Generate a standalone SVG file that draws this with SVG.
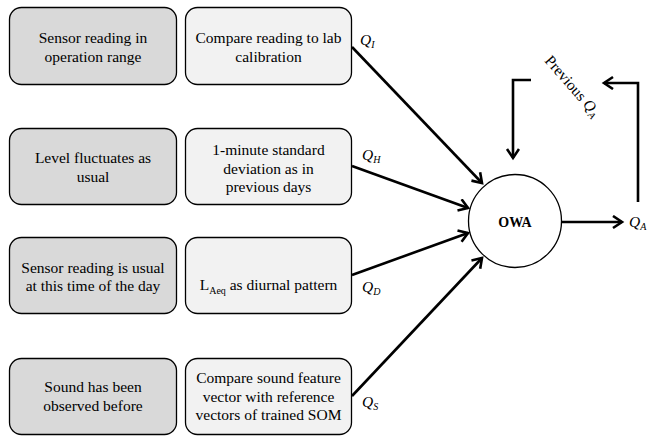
<svg xmlns="http://www.w3.org/2000/svg" width="649" height="436" viewBox="0 0 649 436">
  <style>
    .cond { fill: #d9d9d9; stroke: #000; stroke-width: 1.3; }
    .meth { fill: #f2f2f2; stroke: #000; stroke-width: 1.3; }
    .serif { font-family: "Liberation Serif", Tinos, "Nimbus Roman", "Noto Serif", "DejaVu Serif", serif; }
    .txt { font-size: 15.5px; fill: #000; text-anchor: middle; }
    .q { font-size: 15.5px; font-style: italic; fill: #000; }
    .sub { font-size: 10px; }
    .wire { fill: none; stroke: #000; stroke-width: 2.6; }
    .owa { font-size: 14px; font-weight: bold; text-anchor: middle; }
  </style>
  <defs>
    <marker id="head" markerUnits="userSpaceOnUse" markerWidth="16" markerHeight="16" refX="11" refY="7" orient="auto">
      <path d="M2,1 L11,7 L2,13" fill="none" stroke="#000" stroke-width="2.6"/>
    </marker>
  </defs>

  <g class="serif">
  <!-- row 1 -->
  <g id="cond-range">
    <rect class="cond" x="9.5" y="7.5" width="167" height="77" rx="12"/>
    <text class="txt" x="93" y="43">Sensor reading in</text>
    <text class="txt" x="93" y="62">operation range</text>
  </g>
  <g id="method-calibration">
    <rect class="meth" x="185.5" y="7.5" width="166" height="77" rx="12"/>
    <text class="txt" x="268.5" y="43">Compare reading to lab</text>
    <text class="txt" x="268.5" y="62">calibration</text>
  </g>

  <!-- row 2 -->
  <g id="cond-fluct">
    <rect class="cond" x="9.5" y="128.5" width="167" height="76" rx="12"/>
    <text class="txt" x="93" y="163">Level fluctuates as</text>
    <text class="txt" x="93" y="182">usual</text>
  </g>
  <g id="method-stddev">
    <rect class="meth" x="185.5" y="128.5" width="166" height="76" rx="12"/>
    <text class="txt" x="268.5" y="155">1-minute standard</text>
    <text class="txt" x="268.5" y="173.5">deviation as in</text>
    <text class="txt" x="268.5" y="192">previous days</text>
  </g>

  <!-- row 3 -->
  <g id="cond-diurnal">
    <rect class="cond" x="9.5" y="237.5" width="167" height="76" rx="12"/>
    <text class="txt" x="93" y="273">Sensor reading is usual</text>
    <text class="txt" x="93" y="291">at this time of the day</text>
  </g>
  <g id="method-laeq">
    <rect class="meth" x="185.5" y="237.5" width="166" height="76" rx="12"/>
    <text class="txt" x="268.5" y="290">L<tspan class="sub" dy="4">Aeq</tspan><tspan dy="-4"> as diurnal pattern</tspan></text>
  </g>

  <!-- row 4 -->
  <g id="cond-sound">
    <rect class="cond" x="9.5" y="358.5" width="167" height="76" rx="12"/>
    <text class="txt" x="93" y="392">Sound has been</text>
    <text class="txt" x="93" y="411">observed before</text>
  </g>
  <g id="method-som">
    <rect class="meth" x="185.5" y="358.5" width="166" height="76" rx="12"/>
    <text class="txt" x="268.5" y="383">Compare sound feature</text>
    <text class="txt" x="268.5" y="401.5">vector with reference</text>
    <text class="txt" x="268.5" y="420">vectors of trained SOM</text>
  </g>

  <!-- aggregation node -->
  <g id="owa">
    <circle cx="515" cy="221" r="46.5" fill="#fff" stroke="#000" stroke-width="1.3"/>
    <text class="owa" x="515" y="226.5">OWA</text>
  </g>

  <!-- connectors -->
  <g id="connectors">
    <line class="wire" x1="352" y1="47" x2="482" y2="183" marker-end="url(#head)"/>
    <line class="wire" x1="352" y1="166" x2="468" y2="208" marker-end="url(#head)"/>
    <line class="wire" x1="352" y1="275" x2="468" y2="233" marker-end="url(#head)"/>
    <line class="wire" x1="352" y1="396" x2="482" y2="258" marker-end="url(#head)"/>
    <line class="wire" x1="561.5" y1="222" x2="622" y2="222" marker-end="url(#head)"/>
    <polyline class="wire" points="638,202 638,83 604,83" marker-end="url(#head)"/>
    <polyline class="wire" points="531,80 513,80 513,158" marker-end="url(#head)"/>
  </g>

  <!-- signal labels -->
  <g id="labels">
    <text class="q" x="360" y="45">Q<tspan class="sub" dy="3">I</tspan></text>
    <text class="q" x="362" y="160">Q<tspan class="sub" dy="3">H</tspan></text>
    <text class="q" x="362" y="292">Q<tspan class="sub" dy="3">D</tspan></text>
    <text class="q" x="362" y="407">Q<tspan class="sub" dy="3">S</tspan></text>
    <text class="q" x="629" y="227">Q<tspan class="sub" dy="3">A</tspan></text>
    <text font-size="15.5" transform="translate(544 61) rotate(49)">Previous <tspan font-style="italic">Q</tspan><tspan font-style="italic" font-size="10" dy="3">A</tspan></text>
  </g>
  </g>
</svg>
